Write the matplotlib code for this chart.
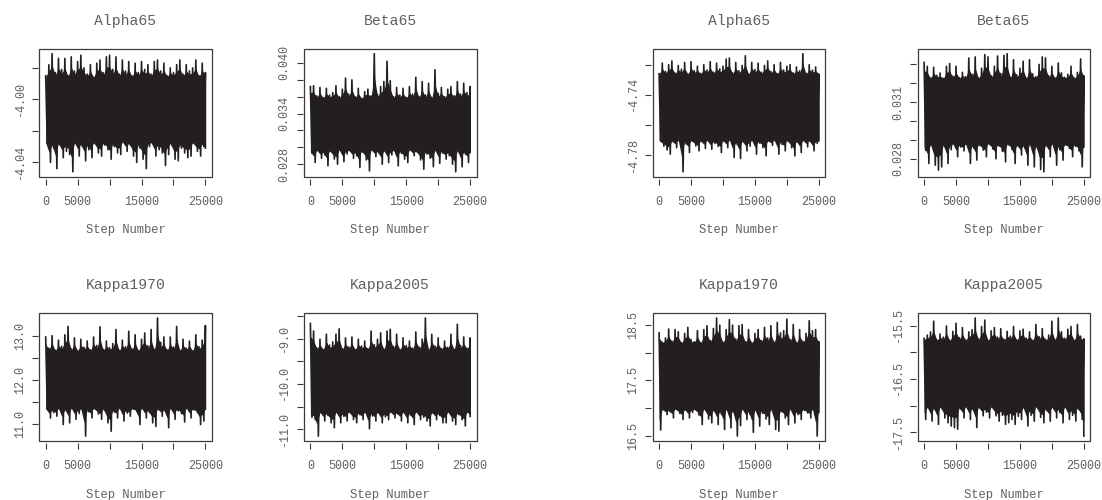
import numpy as np
import matplotlib
matplotlib.use("Agg")
import matplotlib.pyplot as plt
from matplotlib.patches import Rectangle

plt.rcParams['font.family'] = ['Liberation Mono', 'DejaVu Sans Mono']
plt.rcParams['axes.unicode_minus'] = False

# MCMC trace envelopes: upper / lower edge every 500 steps
steps = np.arange(0, 25001, 500)

# left block
alpha65_l_hi = [-3.985, -3.978, -3.971, -3.983, -3.974, -3.981, -3.974, -3.985, -3.973, -3.982,
                -3.976, -3.972, -3.980, -3.984, -3.978, -3.986, -3.977, -3.975, -3.983, -3.973,
                -3.972, -3.981, -3.973, -3.984, -3.975, -3.982, -3.976, -3.985, -3.977, -3.983,
                -3.976, -3.981, -3.978, -3.984, -3.976, -3.975, -3.982, -3.977, -3.985, -3.980,
                -3.983, -3.978, -3.975, -3.984, -3.978, -3.982, -3.980, -3.975, -3.985, -3.977, -3.983]
alpha65_l_lo = [-4.028, -4.040, -4.031, -4.044, -4.029, -4.037, -4.033, -4.035, -4.046, -4.028,
                -4.036, -4.030, -4.039, -4.032, -4.037, -4.028, -4.034, -4.036, -4.029, -4.032,
                -4.038, -4.030, -4.034, -4.035, -4.027, -4.033, -4.029, -4.036, -4.040, -4.031,
                -4.038, -4.044, -4.030, -4.028, -4.036, -4.032, -4.034, -4.042, -4.035, -4.029,
                -4.038, -4.039, -4.031, -4.034, -4.037, -4.036, -4.028, -4.033, -4.036, -4.030, -4.031]

beta65_l_hi = [0.0372, 0.0373, 0.0361, 0.0371, 0.0359, 0.0370, 0.0362, 0.0365, 0.0373, 0.0360,
               0.0369, 0.0382, 0.0363, 0.0380, 0.0360, 0.0370, 0.0358, 0.0366, 0.0369, 0.0361,
               0.0411, 0.0363, 0.0372, 0.0378, 0.0402, 0.0379, 0.0360, 0.0371, 0.0362, 0.0370,
               0.0359, 0.0372, 0.0363, 0.0383, 0.0360, 0.0378, 0.0362, 0.0376, 0.0359, 0.0392,
               0.0364, 0.0371, 0.0360, 0.0369, 0.0372, 0.0361, 0.0378, 0.0363, 0.0376, 0.0365, 0.0372]
beta65_l_lo = [0.0293, 0.0282, 0.0296, 0.0287, 0.0291, 0.0278, 0.0295, 0.0286, 0.0280, 0.0297,
               0.0283, 0.0292, 0.0296, 0.0287, 0.0290, 0.0276, 0.0294, 0.0285, 0.0272, 0.0297,
               0.0289, 0.0293, 0.0280, 0.0295, 0.0282, 0.0291, 0.0296, 0.0278, 0.0293, 0.0286,
               0.0282, 0.0297, 0.0290, 0.0294, 0.0285, 0.0274, 0.0292, 0.0287, 0.0277, 0.0296,
               0.0281, 0.0293, 0.0286, 0.0290, 0.0280, 0.0271, 0.0295, 0.0277, 0.0292, 0.0282, 0.0294]

kappa1970_l_hi = [12.97, 12.72, 13.00, 12.67, 12.90, 12.76, 13.02, 13.21, 12.70, 12.95,
                  12.66, 12.92, 12.74, 12.88, 12.68, 12.97, 12.78, 13.20, 12.69, 12.88,
                  12.73, 12.82, 13.14, 12.67, 12.90, 12.75, 13.10, 12.70, 13.02, 12.66,
                  12.92, 13.06, 12.77, 13.14, 12.69, 13.40, 12.85, 12.97, 12.68, 12.97,
                  12.74, 13.21, 12.67, 12.92, 12.72, 12.88, 12.66, 13.02, 12.75, 12.90, 13.23]
kappa1970_l_lo = [11.34, 11.14, 11.26, 11.18, 11.35, 10.99, 11.30, 11.03, 11.36, 11.11,
                  11.24, 11.33, 10.73, 11.28, 11.14, 11.35, 11.23, 11.11, 11.32, 11.03,
                  10.84, 11.27, 11.14, 11.36, 11.07, 11.25, 11.18, 11.34, 11.29, 10.99,
                  11.36, 11.14, 11.26, 11.03, 10.95, 11.33, 11.18, 11.28, 10.92, 11.35,
                  11.11, 11.30, 11.24, 11.05, 11.36, 11.14, 11.32, 11.26, 10.99, 11.07, 11.34]

kappa2005_l_hi = [-8.66, -8.83, -9.20, -9.01, -9.24, -8.90, -9.14, -9.07, -8.90, -8.78,
                  -9.22, -8.98, -9.18, -8.96, -9.24, -9.01, -9.16, -9.05, -9.22, -8.83,
                  -9.13, -9.01, -8.87, -9.23, -8.83, -8.79, -9.17, -8.90, -9.24, -8.98,
                  -9.15, -9.05, -9.21, -8.85, -9.18, -9.01, -8.54, -9.24, -8.90, -9.16,
                  -8.98, -9.22, -9.05, -9.19, -8.90, -9.24, -8.68, -9.15, -8.96, -9.21, -8.98]
kappa2005_l_lo = [-10.74, -10.79, -11.155, -10.64, -10.82, -10.70, -10.86, -10.97, -10.63, -10.86,
                  -10.72, -10.82, -10.62, -10.79, -10.86, -10.68, -10.79, -10.63, -10.99, -10.71,
                  -10.82, -10.64, -10.86, -10.73, -10.79, -10.62, -10.75, -10.67, -10.82, -10.63,
                  -10.86, -10.70, -10.90, -10.62, -10.79, -10.74, -10.82, -10.93, -10.65, -10.79,
                  -10.70, -10.86, -10.86, -10.62, -10.82, -10.90, -10.68, -10.79, -10.93, -10.63, -10.72]

# right block
alpha65_r_hi = [-4.7260, -4.7189, -4.7245, -4.7200, -4.7175, -4.7255, -4.7205, -4.7230, -4.7185, -4.7262,
                -4.7180, -4.7240, -4.7210, -4.7258, -4.7200, -4.7235, -4.7180, -4.7250, -4.7190, -4.7228,
                -4.7210, -4.7163, -4.7156, -4.7255, -4.7185, -4.7240, -4.7205, -4.7141, -4.7262, -4.7185,
                -4.7232, -4.7190, -4.7250, -4.7205, -4.7175, -4.7245, -4.7200, -4.7260, -4.7185, -4.7235,
                -4.7210, -4.7200, -4.7255, -4.7215, -4.7240, -4.7127, -4.7258, -4.7200, -4.7236, -4.7215, -4.7262]
alpha65_r_lo = [-4.7705, -4.7740, -4.7765, -4.7793, -4.7712, -4.7750, -4.7702, -4.7910, -4.7725, -4.7782,
                -4.7706, -4.7738, -4.7771, -4.7710, -4.7755, -4.7703, -4.7760, -4.7722, -4.7742, -4.7782,
                -4.7708, -4.7750, -4.7700, -4.7815, -4.7730, -4.7822, -4.7712, -4.7771, -4.7740, -4.7704,
                -4.7793, -4.7720, -4.7750, -4.7804, -4.7708, -4.7735, -4.7702, -4.7793, -4.7728, -4.7771,
                -4.7706, -4.7750, -4.7804, -4.7715, -4.7782, -4.7703, -4.7745, -4.7710, -4.7771, -4.7722, -4.7705]

beta65_r_hi = [0.03311, 0.03290, 0.03228, 0.03285, 0.03242, 0.03255, 0.03226, 0.03290, 0.03305, 0.03238,
               0.03290, 0.03230, 0.03258, 0.03235, 0.03334, 0.03248, 0.03340, 0.03228, 0.03280, 0.03352,
               0.03340, 0.03240, 0.03290, 0.03345, 0.03252, 0.03348, 0.03357, 0.03232, 0.03325, 0.03245,
               0.03280, 0.03317, 0.03226, 0.03325, 0.03250, 0.03235, 0.03300, 0.03340, 0.03335, 0.03240,
               0.03290, 0.03228, 0.03308, 0.03255, 0.03232, 0.03248, 0.03290, 0.03228, 0.03258, 0.03329, 0.03240]
beta65_r_lo = [0.02845, 0.02775, 0.02872, 0.02766, 0.02740, 0.02757, 0.02865, 0.02775, 0.02848, 0.02878,
               0.02811, 0.02862, 0.02842, 0.02876, 0.02775, 0.02858, 0.02793, 0.02870, 0.02846, 0.02811,
               0.02880, 0.02852, 0.02800, 0.02868, 0.02840, 0.02784, 0.02875, 0.02850, 0.02775, 0.02866,
               0.02820, 0.02858, 0.02766, 0.02874, 0.02757, 0.02855, 0.02743, 0.02731, 0.02868, 0.02811,
               0.02878, 0.02766, 0.02848, 0.02793, 0.02872, 0.02855, 0.02811, 0.02866, 0.02842, 0.02757, 0.02862]

kappa1970_r_hi = [18.36, 18.19, 18.27, 18.43, 18.21, 18.42, 18.38, 18.18, 18.35, 18.46,
                  18.24, 18.20, 18.40, 18.18, 18.42, 18.49, 18.22, 18.44, 18.63, 18.50,
                  18.19, 18.42, 18.60, 18.50, 18.25, 18.49, 18.51, 18.20, 18.42, 18.18,
                  18.35, 18.42, 18.22, 18.46, 18.27, 18.49, 18.19, 18.55, 18.36, 18.40,
                  18.61, 18.24, 18.51, 18.18, 18.42, 18.21, 18.35, 18.58, 18.40, 18.42, 18.20]
kappa1970_r_lo = [16.60, 16.97, 16.88, 16.93, 16.82, 16.98, 16.90, 16.79, 16.96, 16.82,
                  16.92, 16.97, 16.87, 16.70, 16.98, 16.80, 16.73, 16.94, 16.70, 16.89,
                  16.61, 16.97, 16.64, 16.92, 16.49, 16.68, 16.98, 16.79, 16.88, 16.56,
                  16.95, 16.67, 16.90, 16.80, 16.70, 16.97, 16.61, 16.58, 16.93, 16.82,
                  16.70, 16.98, 16.73, 16.88, 16.79, 16.96, 16.91, 16.82, 16.97, 16.49, 16.92]

kappa2005_r_hi = [-15.74, -15.68, -15.62, -15.42, -15.77, -15.66, -15.72, -15.51, -15.78, -15.61,
                  -15.46, -15.73, -15.54, -15.77, -15.62, -15.58, -15.36, -15.75, -15.52, -15.40,
                  -15.78, -15.60, -15.54, -15.72, -15.56, -15.76, -15.61, -15.70, -15.52, -15.77,
                  -15.60, -15.57, -15.74, -15.62, -15.78, -15.48, -15.71, -15.56, -15.76, -15.68,
                  -15.42, -15.77, -15.36, -15.62, -15.74, -15.57, -15.52, -15.78, -15.48, -15.70, -15.75]
kappa2005_r_lo = [-17.26, -17.04, -17.29, -17.08, -17.35, -17.03, -17.23, -17.32, -17.38, -17.41,
                  -17.44, -17.06, -17.23, -17.02, -17.26, -17.09, -17.41, -17.04, -17.19, -17.12,
                  -17.23, -17.03, -17.19, -17.29, -17.18, -17.35, -17.32, -17.26, -17.35, -17.20,
                  -17.26, -17.05, -17.38, -17.18, -17.29, -17.02, -17.22, -17.32, -17.10, -17.29,
                  -17.04, -17.23, -17.13, -17.32, -17.03, -17.26, -17.18, -17.29, -17.07, -17.26, -17.57]

xticks = [0, 5000, 10000, 15000, 20000, 25000]
xticklabels = ['0', '5000', '', '15000', '', '25000']

# (title, upper, lower, y ticks, y tick labels, left px, top px)
panels = [
    ('Alpha65', alpha65_l_hi, alpha65_l_lo, [-4.04, -4.02, -4.00, -3.98],
     ['-4.04', '', '-4.00', ''], 39.3, 49),
    ('Beta65', beta65_l_hi, beta65_l_lo, [0.028, 0.030, 0.032, 0.034, 0.036, 0.038, 0.040],
     ['0.028', '', '', '0.034', '', '', '0.040'], 304, 49),
    ('Alpha65', alpha65_r_hi, alpha65_r_lo, [-4.78, -4.76, -4.74, -4.72],
     ['-4.78', '', '-4.74', ''], 652.7, 49),
    ('Beta65', beta65_r_hi, beta65_r_lo, [0.028, 0.029, 0.030, 0.031, 0.032, 0.033],
     ['0.028', '', '', '0.031', '', ''], 917.7, 49),
    ('Kappa1970', kappa1970_l_hi, kappa1970_l_lo, [11.0, 11.5, 12.0, 12.5, 13.0],
     ['11.0', '', '12.0', '', '13.0'], 39.3, 313.3),
    ('Kappa2005', kappa2005_l_hi, kappa2005_l_lo, [-11.0, -10.5, -10.0, -9.5, -9.0, -8.5],
     ['-11.0', '', '-10.0', '', '-9.0', ''], 304, 313.3),
    ('Kappa1970', kappa1970_r_hi, kappa1970_r_lo, [16.5, 17.0, 17.5, 18.0, 18.5],
     ['16.5', '', '17.5', '', '18.5'], 652.7, 313.3),
    ('Kappa2005', kappa2005_r_hi, kappa2005_r_lo, [-17.5, -17.0, -16.5, -16.0, -15.5],
     ['-17.5', '', '-16.5', '', '-15.5'], 917.7, 313.3),
]

W, H = 1102, 500
AW, AH = 172.5, 127.5
txt = '#606060'
ink = '#231f20'
frame = '#3a3a3a'

fig = plt.figure(figsize=(W / 100, H / 100), dpi=100)

for title, hi, lo, yt, ytl, left, top in panels:
    ax = fig.add_axes([left / W, 1 - (top + AH) / H, AW / W, AH / H])
    hi = np.array(hi)
    lo = np.array(lo)
    # dense body of the chain reaches about half way out to each edge,
    # the single swings (lower turning points half-way between upper ones) do the rest
    body_hi = hi.min() + 0.5 * (hi - hi.min())
    body_lo = lo.max() - 0.5 * (lo.max() - lo)
    ax.fill_between(steps, body_lo, body_hi, color=ink, lw=0)
    x = np.minimum((steps[:, None] + np.array([0, 250])).ravel(), steps[-1])
    y = np.column_stack([hi, lo]).ravel()
    ax.plot(x, y, color=ink, lw=1.2)

    # R-style limits: 4% extension of the data range
    ax.set_xlim(-1000, 26000)
    span = hi.max() - lo.min()
    ax.set_ylim(lo.min() - 0.04 * span, hi.max() + 0.04 * span)

    for s in ax.spines.values():
        s.set_visible(False)
    ax.spines['bottom'].set_position(('outward', 1.5))
    ax.spines['left'].set_position(('outward', 1.0))
    ax.add_patch(Rectangle((0, 0), 1, 1, transform=ax.transAxes, fill=False,
                           ec=frame, lw=0.9, clip_on=False, zorder=5))

    ax.set_xticks(xticks)
    ax.set_xticklabels(xticklabels)
    ax.set_yticks(yt)
    ax.set_yticklabels(ytl)
    ax.tick_params(direction='out', length=4.2, width=0.8, color=frame,
                   labelcolor=txt, labelsize=8.5)
    ax.tick_params(axis='x', pad=8.0)
    ax.tick_params(axis='y', pad=4.5, labelrotation=90)
    for lab in ax.get_yticklabels():
        lab.set_va('center')

    ax.text(0.5, 1 + 28 / AH, title, transform=ax.transAxes, ha='center',
            va='center', fontsize=10.6, color=txt)
    ax.text(0.5, -54 / AH, 'Step Number', transform=ax.transAxes, ha='center',
            va='center', fontsize=8.7, color=txt)

plt.savefig('out.png', dpi=100)
